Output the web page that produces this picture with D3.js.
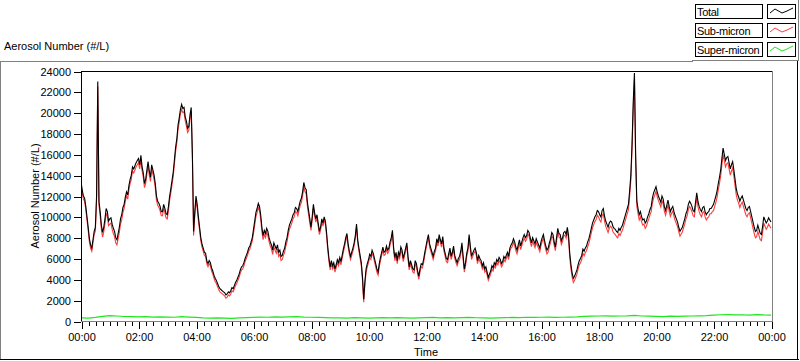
<!DOCTYPE html>
<html><head><meta charset="utf-8">
<script src="https://cdn.jsdelivr.net/npm/d3@7"></script>
<style>
body{margin:0;background:#fff;}
svg{display:block;font-family:"Liberation Sans",Arial,sans-serif;font-size:11px;}
</style></head><body>
<svg id="c" width="800" height="361"></svg>
<script>
// ---------------- data ----------------
const hourTicks = [0,2,4,6,8,10,12,14,16,18,20,22,24];
const hourTickLabels = ["00:00","02:00","04:00","06:00","08:00","10:00","12:00","14:00","16:00","18:00","20:00","22:00","00:00"];
const yTicks = [0,2000,4000,6000,8000,10000,12000,14000,16000,18000,20000,22000,24000];
const seriesNames = ["Total","Sub-micron","Super-micron"];
const seriesColors = ["#000000","#ff3c3c","#1ee61e"];
const sampleStepMinutes = 2.5;   // total & sub-micron sampled every 2.5 min (24 per hour)
const superStepMinutes = 15;     // super-micron sampled every 15 min

const totalValues = [
13400,12600,12000,11800,11000,10000,9000,7900,7300,7000,7800,8600,9000,12000,23000,11500,10500,9200,8500,9000,9800,10800,10500,9600,
9800,9900,9300,8900,8600,8000,7800,8400,9000,9800,10200,10900,11200,11900,12400,12100,13000,13600,14000,14800,14600,14900,15200,15400,
15600,15000,15900,14800,14200,13200,13600,14500,15300,14400,13800,15000,14500,14000,13200,12000,11500,11300,11000,10500,10500,11200,10800,10300,
10200,11000,12000,12700,13500,14300,15500,16700,17500,18800,19500,20300,20800,20400,20500,19600,19200,18500,18700,19800,20500,16000,8600,10500,
12000,11200,10000,9000,8000,7400,7000,6600,6500,5800,5500,5800,5600,5100,4800,4400,4100,3900,3600,3300,3100,3000,2900,2800,
2700,2500,2600,2800,2700,2900,3200,3100,3400,3700,3900,4200,4500,4900,5200,5300,5600,6000,6300,6600,7000,7200,7600,8000,
8800,9600,10400,10800,11300,11000,10200,9000,8200,8700,8400,8900,8600,8000,7600,7300,6800,7500,7200,6900,7300,6600,6800,6200,
6300,6700,7000,7600,8000,8700,9200,9500,9800,10200,10400,10900,10800,10500,11000,11500,11800,12400,13300,12800,12600,11400,10600,9800,
9000,10000,11200,10400,9800,10200,9400,8600,9000,9800,9400,10000,9600,8500,7100,6000,5200,5800,5300,5600,5000,5400,5900,5600,
6100,5700,6300,6900,7400,8000,8400,7400,6700,6200,6600,7000,7500,8200,9300,7800,7000,6300,5600,4200,2100,3800,5000,5500,
5900,6400,6200,6800,6500,6000,5500,5000,4700,5500,6100,6600,7100,6600,6700,7200,6800,7000,7600,8000,8700,7000,6100,6600,
5800,6600,6300,7100,6800,6000,6500,7000,7500,6200,5200,5800,5400,5000,4900,5800,5500,4800,4300,5000,5500,5400,5900,6600,
7200,7800,8300,7400,7000,6600,6200,6700,7000,7900,7500,8300,7800,7400,8100,7000,6500,6000,5900,6500,7000,6200,6600,7200,
6300,5900,5600,6000,6200,6700,7500,6200,5000,5600,6500,7000,8300,7200,6200,6500,6800,7000,6600,5800,6300,6000,5800,5300,
5600,5000,5200,4700,4200,4500,4800,5300,5100,5600,5400,5900,5700,6100,5900,5500,5700,6200,6000,6300,6600,6200,7000,7300,
7500,7900,7600,7100,6800,7300,7800,7200,7600,8000,8300,8000,8200,8700,8500,8000,7500,8000,7700,7400,7900,7600,7300,7000,
7600,8000,8300,7700,7200,6800,7000,7500,7900,8500,8300,7600,7100,8000,8900,8400,8300,7700,8000,8500,8600,8300,9000,8200,
6500,5400,4600,4100,4300,4600,4900,5400,5800,6000,6300,6900,6700,7000,7200,7600,7900,8400,8900,9400,9700,10000,10200,10600,
10500,10200,10000,10600,10800,10100,9600,9300,9000,9400,9600,9500,9100,8900,8800,8600,8500,8900,8700,9000,9200,9600,10000,10400,
10800,11200,12500,14000,17000,21000,23800,16000,11500,10800,10200,10500,10000,9700,9800,9400,9600,10000,10300,10700,11000,11800,12300,12600,
12900,12400,12000,11700,11400,12000,11700,11000,10600,11100,11600,11000,10500,10800,11000,10500,10100,9800,9500,9000,8600,8800,9000,9400,
9800,10300,10600,11200,11500,11300,11000,10600,10500,11400,12300,11500,11000,10700,10500,10900,11000,10500,10200,10400,10500,10800,10800,11000,
11200,11600,12000,12500,13200,13800,14500,15600,16600,16000,15400,15700,15800,15200,14600,15000,15300,14500,13600,12700,12200,11900,11500,11800,
12000,11600,11200,10800,10600,10900,11000,10500,10000,9500,9000,8600,8700,9200,8800,8400,8300,9100,10000,9700,9400,9600,9900,9700,9500
];
const subMicronValues = [
13100,12300,11700,11500,10700,9700,8700,7600,7000,6700,7500,8300,8650,11600,22500,11100,10100,8800,8050,8550,9350,10350,10050,9150,
9300,9400,8800,8400,8100,7500,7300,7900,8500,9300,9700,10400,10800,11500,12000,11700,12600,13200,13600,14400,14200,14500,14800,15000,
15200,14600,15500,14400,13800,12800,13200,14100,14900,14000,13400,14600,14100,13600,12800,11600,11100,10900,10600,10100,10100,10800,10400,9900,
9800,10600,11600,12300,13100,13900,15100,16300,17100,18400,19100,19900,20300,20000,20100,19200,18700,18100,18300,19400,20100,15500,8200,10100,
11600,10800,9600,8700,7700,7100,6700,6300,6200,5500,5200,5500,5300,4800,4500,4100,3800,3600,3300,3000,2800,2700,2600,2500,
2400,2200,2300,2500,2400,2600,2900,2800,3100,3400,3600,3900,4200,4600,4900,5000,5300,5700,6000,6300,6700,6900,7300,7700,
8400,9200,10000,10400,10900,10600,9800,8600,7800,8300,8000,8500,8200,7600,7200,6900,6400,7100,6800,6500,6900,6200,6400,5800,
5900,6300,6600,7200,7600,8300,8800,9100,9400,9800,10000,10500,10400,10100,10600,11100,11400,12000,12900,12400,12200,11000,10200,9400,
8700,9700,10900,10100,9500,9900,9100,8300,8700,9500,9100,9700,9300,8200,6800,5700,4900,5500,5000,5300,4700,5100,5600,5300,
5800,5400,6000,6600,7100,7700,8100,7100,6400,5900,6300,6700,7200,7900,9000,7500,6700,6000,5300,3900,1800,3500,4700,5200,
5600,6100,5900,6500,6200,5700,5200,4700,4400,5200,5800,6300,6800,6300,6400,6900,6500,6700,7300,7700,8400,6700,5800,6300,
5500,6300,6000,6800,6500,5700,6200,6700,7200,5900,4900,5500,5100,4700,4600,5500,5200,4500,4000,4700,5200,5100,5600,6300,
6900,7500,8000,7100,6700,6300,5900,6400,6700,7600,7200,8000,7500,7100,7800,6700,6200,5700,5600,6200,6700,5900,6300,6900,
6000,5600,5300,5700,5900,6400,7200,5900,4700,5300,6200,6700,8000,6900,5900,6200,6500,6700,6300,5500,6000,5700,5500,5000,
5300,4700,4900,4400,3900,4200,4500,5000,4800,5300,5100,5600,5400,5800,5600,5200,5400,5900,5700,6000,6300,5900,6700,7000,
7150,7550,7250,6750,6450,6950,7450,6850,7250,7650,7950,7650,7850,8350,8150,7650,7150,7650,7350,7050,7550,7250,6950,6650,
7250,7650,7950,7350,6850,6450,6650,7150,7550,8150,7950,7250,6750,7650,8550,8050,7950,7350,7650,8150,8250,7950,8650,7850,
6100,5000,4200,3700,3900,4200,4500,5000,5400,5600,5900,6500,6250,6550,6750,7150,7450,7950,8450,8950,9250,9550,9750,10150,
10000,9700,9500,10100,10300,9600,9100,8800,8500,8900,9100,9000,8600,8400,8300,8100,8000,8400,8200,8500,8700,9100,9500,9900,
10300,10700,12000,13500,16500,20400,23200,15500,11000,10300,9700,10000,9500,9200,9300,8900,9100,9500,9800,10200,10500,11300,11800,12100,
12450,11950,11550,11250,10950,11550,11250,10550,10150,10650,11150,10550,10050,10350,10550,10050,9650,9350,9050,8550,8150,8350,8550,8950,
9300,9800,10100,10700,11000,10800,10500,10100,10000,10900,11800,11000,10500,10200,10000,10400,10500,10000,9700,9900,10000,10300,10300,10500,
10600,11000,11400,11900,12600,13200,13900,15000,16000,15400,14800,15100,15200,14600,14000,14400,14700,13900,13000,12100,11600,11300,10900,11200,
11400,11000,10600,10200,10000,10300,10400,9900,9400,8900,8400,8000,8100,8600,8200,7800,7700,8500,9400,9100,8800,9000,9300,9100,8900
];
const superMicronValues = [
300,280,350,450, 520,480,430,420, 400,420,380,400, 380,360,420,380,
340,300,280,300, 280,260,300,320, 350,380,360,400, 380,400,420,380,
360,340,320,300, 300,280,320,300, 280,300,320,300, 320,300,280,300,
320,340,300,320, 300,320,340,310, 300,280,300,320, 340,320,360,340,
360,380,340,360, 380,400,440,460, 480,500,460,480, 500,540,480,460,
440,420,460,440, 460,480,500,520, 560,600,620,580, 600,560,620,580,560
];

// ---------------- layout ----------------
const svg = d3.select("#c");
const plot = {left:81, right:772, top:71, bottom:321};
const x = d3.scaleLinear().domain([0,24]).range([plot.left, plot.right-1]);
const y = d3.scaleLinear().domain([0,24000]).range([plot.bottom, plot.top]);

// outer frame (3D look)
svg.append("line").attr("x1",0).attr("x2",693).attr("y1",61.5).attr("y2",61.5).attr("stroke","#808080");
svg.append("line").attr("x1",0.5).attr("x2",0.5).attr("y1",61).attr("y2",360).attr("stroke","#808080");
svg.append("line").attr("x1",0).attr("x2",799).attr("y1",359.5).attr("y2",359.5).attr("stroke","#000");
svg.append("line").attr("x1",797.5).attr("x2",797.5).attr("y1",61).attr("y2",360).attr("stroke","#000");

// title
svg.append("text").attr("x",4).attr("y",50).text("Aerosol Number (#/L)");

// plot frame
const frame = svg.append("g").attr("shape-rendering","crispEdges");
frame.append("line").attr("x1",plot.left).attr("x2",plot.right).attr("y1",plot.top+0.5).attr("y2",plot.top+0.5).attr("stroke","#000");
frame.append("line").attr("x1",plot.left+0.5).attr("x2",plot.left+0.5).attr("y1",plot.top).attr("y2",plot.bottom).attr("stroke","#000");
frame.append("line").attr("x1",plot.right+0.5).attr("x2",plot.right+0.5).attr("y1",plot.top).attr("y2",plot.bottom+1).attr("stroke","#808080");
frame.append("line").attr("x1",plot.left).attr("x2",plot.right+1).attr("y1",plot.bottom+0.5).attr("y2",plot.bottom+0.5).attr("stroke","#808080");

// y axis
const yAxis = d3.axisLeft(y).tickValues(yTicks).tickSize(7).tickPadding(3).tickFormat(d3.format("d"));
const gy = svg.append("g").attr("transform",`translate(${plot.left},0.5)`).call(yAxis);
gy.select(".domain").remove();
gy.selectAll("line").attr("stroke","#000").attr("shape-rendering","crispEdges");
gy.selectAll("text").attr("font-size",11).attr("font-family","Liberation Sans, Arial, sans-serif").attr("fill","#000");

// x axis minor
const minorTicks = d3.range(0,24.001,0.25);
const gxm = svg.append("g").attr("transform",`translate(0.5,${plot.bottom+1})`)
  .call(d3.axisBottom(x).tickValues(minorTicks).tickSize(4).tickFormat(""));
gxm.select(".domain").remove();
gxm.selectAll("line").attr("stroke","#000").attr("shape-rendering","crispEdges");
// x axis major
const gx = svg.append("g").attr("transform",`translate(0.5,${plot.bottom+1})`)
  .call(d3.axisBottom(x).tickValues(hourTicks).tickSize(7).tickPadding(4).tickFormat((d,i)=>hourTickLabels[i]));
gx.select(".domain").remove();
gx.selectAll("line").attr("stroke","#000").attr("shape-rendering","crispEdges");
gx.selectAll("text").attr("font-size",11).attr("font-family","Liberation Sans, Arial, sans-serif").attr("fill","#000");

// axis titles
svg.append("text").attr("x",426).attr("y",356).attr("text-anchor","middle").text("Time");
svg.append("text").attr("transform","translate(39,196) rotate(-90)").attr("text-anchor","middle").text("Aerosol Number (#/L)");

// series
svg.append("clipPath").attr("id","pc").append("rect")
  .attr("x",plot.left+1).attr("y",plot.top+1).attr("width",plot.right-plot.left-1).attr("height",plot.bottom-plot.top-1);
const gSeries = svg.append("g").attr("clip-path","url(#pc)");
const line = d3.line().x(d=>x(d[0])).y(d=>y(d[1]));
const mk = (vals, step) => vals.map((v,i)=>[i*step/60, v]);
gSeries.append("path").datum(mk(superMicronValues, superStepMinutes))
  .attr("d", line).attr("fill","none").attr("stroke",seriesColors[2]).attr("stroke-width",1.2);
gSeries.append("path").datum(mk(subMicronValues, sampleStepMinutes))
  .attr("d", line).attr("fill","none").attr("stroke",seriesColors[1]).attr("stroke-width",1.1);
gSeries.append("path").datum(mk(totalValues, sampleStepMinutes))
  .attr("d", line).attr("fill","none").attr("stroke",seriesColors[0]).attr("stroke-width",1.1);

// legend
const lg = svg.append("g").attr("shape-rendering","crispEdges");
lg.append("line").attr("x1",798.5).attr("x2",798.5).attr("y1",0).attr("y2",61).attr("stroke","#808080");
lg.append("line").attr("x1",692).attr("x2",799).attr("y1",60.5).attr("y2",60.5).attr("stroke","#808080");
seriesNames.forEach((name,i)=>{
  const yy = 4 + i*19;
  lg.append("rect").attr("x",695.5).attr("y",yy+0.5).attr("width",67).attr("height",14).attr("fill","#fff").attr("stroke","#000");
  lg.append("rect").attr("x",767.5).attr("y",yy+0.5).attr("width",28).attr("height",14).attr("fill","#fff").attr("stroke","#000");
  svg.append("text").attr("x",697).attr("y",yy+12).attr("letter-spacing","-0.3").text(name);
  const zz = [[770,yy+9],[775,yy+5],[782,yy+9],[787,yy+7],[793,yy+4]];
  svg.append("path").attr("d",d3.line()(zz)).attr("fill","none").attr("stroke",seriesColors[i]).attr("stroke-width",1);
});
</script></body></html>
